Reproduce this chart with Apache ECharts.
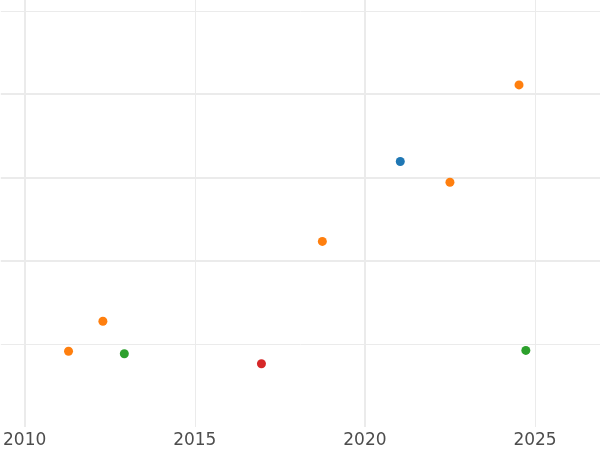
<!DOCTYPE html>
<html>
<head>
<meta charset="utf-8">
<script src="https://cdn.jsdelivr.net/npm/echarts@6/dist/echarts.min.js"></script>
<style>html,body{margin:0;padding:0;background:#fff;}#chart{width:600px;height:450px;}</style>
</head>
<body>
<div id="chart"></div>
<script>
// Data (x = year, y = arbitrary value)
const blueX = [2021.04];
const blueY = [3.19];
const orangeX = [2011.29, 2012.3, 2018.75, 2022.5, 2024.53];
const orangeY = [0.91, 1.27, 2.23, 2.94, 4.11];
const greenX = [2012.93, 2024.73];
const greenY = [0.88, 0.92];
const redX = [2016.96];
const redY = [0.76];

const xTickLabels = [2010, 2015, 2020, 2025];
const xMajorGrid = [2010, 2020];
const xMinorGrid = [2015, 2025];
const yMajorGrid = [2, 3, 4];
const yMinorGrid = [1, 5];

const xMin = 2009.3, xMax = 2026.91;
const yMin = 0, yMax = 5.13;

function pairs(xs, ys) { return xs.map((x, i) => [x, ys[i]]); }

const gridColor = '#ebebeb';
const gridLines = [];
xMajorGrid.forEach(v => gridLines.push({ xAxis: v, lineStyle: { width: 2, color: gridColor, type: 'solid' } }));
xMinorGrid.forEach(v => gridLines.push({ xAxis: v, lineStyle: { width: 1, color: gridColor, type: 'solid' } }));
yMajorGrid.forEach(v => gridLines.push({ yAxis: v, lineStyle: { width: 2, color: gridColor, type: 'solid' } }));
yMinorGrid.forEach(v => gridLines.push({ yAxis: v, lineStyle: { width: 1, color: gridColor, type: 'solid' } }));

const chart = echarts.init(document.getElementById('chart'), null, { renderer: 'canvas' });
chart.setOption({
  animation: false,
  backgroundColor: '#ffffff',
  grid: { left: 0, right: 0, top: 0, bottom: 23, containLabel: false },
  xAxis: {
    type: 'value', min: xMin, max: xMax,
    axisLine: { show: false }, axisTick: { show: false }, splitLine: { show: false },
    axisLabel: {
      customValues: xTickLabels, margin: 5,
      fontFamily: 'DejaVu Sans', fontSize: 17, color: '#4d4d4d',
      formatter: v => String(Math.round(v))
    }
  },
  yAxis: {
    type: 'value', min: yMin, max: yMax,
    axisLine: { show: false }, axisTick: { show: false }, axisLabel: { show: false }, splitLine: { show: false }
  },
  series: [
    {
      type: 'scatter', name: 'blue', data: pairs(blueX, blueY), symbolSize: 9,
      itemStyle: { color: '#1f77b4', opacity: 1 }, z: 3,
      markLine: { silent: true, z: 1, symbol: ['none', 'none'], label: { show: false }, animation: false, data: gridLines }
    },
    { type: 'scatter', name: 'orange', data: pairs(orangeX, orangeY), symbolSize: 9, itemStyle: { color: '#ff7f0e', opacity: 1 }, z: 3 },
    { type: 'scatter', name: 'green', data: pairs(greenX, greenY), symbolSize: 9, itemStyle: { color: '#2ca02c', opacity: 1 }, z: 3 },
    { type: 'scatter', name: 'red', data: pairs(redX, redY), symbolSize: 9, itemStyle: { color: '#d62728', opacity: 1 }, z: 3 }
  ]
});
</script>
</body>
</html>
